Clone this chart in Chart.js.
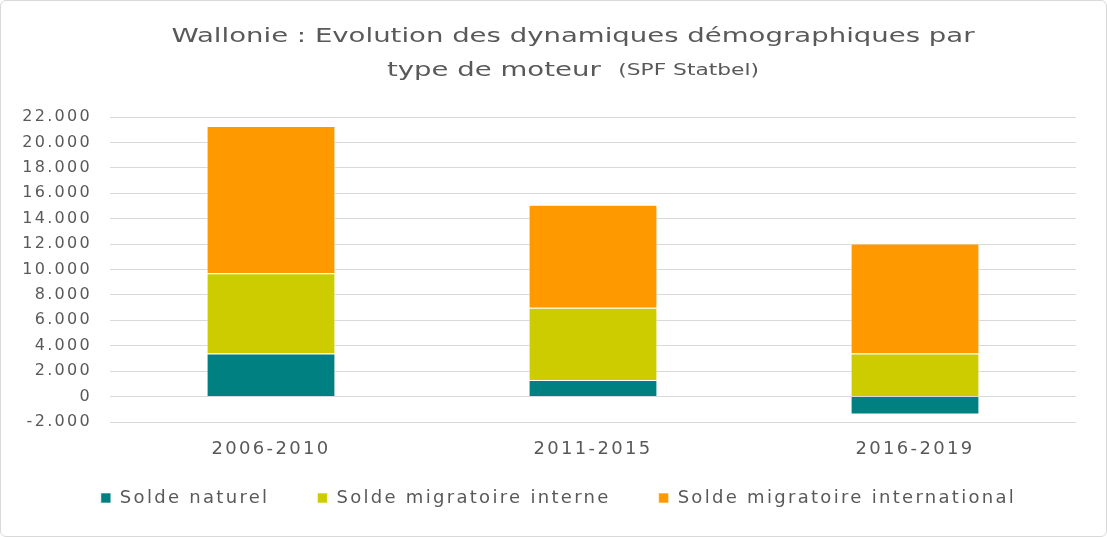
<!DOCTYPE html>
<html>
<head>
<meta charset="utf-8">
<script src="https://cdn.jsdelivr.net/npm/chart.js@4"></script>
<style>
    html, body { margin: 0; padding: 0; background: #ffffff; }
    #wrap {
        width: 1107px; height: 537px; box-sizing: border-box;
        border: 1px solid #d9d9d9; border-radius: 6px; position: relative;
    }
</style>
</head>
<body>
<div id="wrap"><canvas id="demoChart"></canvas></div>
<script>
        // Data
        const periods = ['2006-2010', '2011-2015', '2016-2019'];
        const soldeNaturel = [3400, 1300, -1400];
        const soldeInterne = [6300, 5700, 3400];
        const soldeInternational = [11600, 8100, 8650];
        const yTicks = [-2000, 0, 2000, 4000, 6000, 8000, 10000, 12000, 14000, 16000, 18000, 20000, 22000];

        const textColor = '#595959';
        const fontFamily = "'DejaVu Sans', sans-serif";
        const spacing = '2.3px';

        function formatNumber(num) {
            return num.toString().replace(/\B(?=(\d{3})+(?!\d))/g, ".");
        }

        // The source text is wide, so space the letters a bit
        const spacingPlugin = {
            id: 'letterSpacing',
            beforeUpdate(chart) { chart.ctx.letterSpacing = spacing; },
            beforeDraw(chart) { chart.ctx.letterSpacing = spacing; }
        };

        // Move the legend up and a little to the right, like the reference
        const legendShift = {
            id: 'legendShift',
            afterLayout(chart) {
                const legend = chart.legend;
                legend.left += 20;
                legend.right += 20;
                legend.top -= 19;
                legend.bottom -= 19;
            }
        };

        // Title with a smaller source note on the second line
        const titlePlugin = {
            id: 'twoSizeTitle',
            afterDraw(chart) {
                const ctx = chart.ctx;
                const line1 = 'Wallonie : Evolution des dynamiques démographiques par';
                const main = 'type de moteur  ';
                const note = '(SPF Statbel)';
                ctx.save();
                ctx.letterSpacing = '0px';
                ctx.fillStyle = textColor;
                ctx.textBaseline = 'middle';
                ctx.font = '19px ' + fontFamily;
                const sx = 803 / ctx.measureText(line1).width;
                ctx.translate(572, 0);
                ctx.scale(sx, 1);
                ctx.textAlign = 'center';
                ctx.fillText(line1, 0, 36);

                const w1 = ctx.measureText(main).width;
                ctx.font = '15px ' + fontFamily;
                const w2 = ctx.measureText(note).width;
                const x = -(w1 + w2) / 2;
                ctx.textAlign = 'left';
                ctx.font = '19px ' + fontFamily;
                ctx.fillText(main, x, 70);
                ctx.font = '15px ' + fontFamily;
                ctx.fillText(note, x + w1, 70);
                ctx.restore();
            }
        };

        const ctx = document.getElementById('demoChart').getContext('2d');
        const demoChart = new Chart(ctx, {
            type: 'bar',
            data: {
                labels: periods,
                datasets: [
                    {
                        label: 'Solde naturel',
                        data: soldeNaturel,
                        backgroundColor: '#008080',
                        borderColor: 'rgba(255, 255, 255, 0.6)',
                        borderWidth: 1
                    },
                    {
                        label: 'Solde migratoire interne',
                        data: soldeInterne,
                        backgroundColor: '#cccc00',
                        borderColor: 'rgba(255, 255, 255, 0.6)',
                        borderWidth: 1
                    },
                    {
                        label: 'Solde migratoire international',
                        data: soldeInternational,
                        backgroundColor: '#ff9900',
                        borderColor: 'rgba(255, 255, 255, 0.6)',
                        borderWidth: 1
                    }
                ]
            },
            options: {
                responsive: true,
                maintainAspectRatio: false,
                animation: false,
                layout: {
                    padding: { top: 116, right: 30, bottom: 0, left: 0 }
                },
                datasets: {
                    bar: { barPercentage: 0.4, categoryPercentage: 1 }
                },
                plugins: {
                    title: { display: false },
                    tooltip: { enabled: false },
                    legend: {
                        position: 'bottom',
                        labels: {
                            boxWidth: 10,
                            boxHeight: 10,
                            padding: 48,
                            color: textColor,
                            font: { family: fontFamily, size: 18 }
                        }
                    }
                },
                scales: {
                    x: {
                        stacked: true,
                        grid: { display: false },
                        border: { display: false },
                        ticks: {
                            color: textColor,
                            padding: 9,
                            font: { family: fontFamily, size: 18 }
                        },
                        afterFit(scale) { scale.height = 38; }
                    },
                    y: {
                        stacked: true,
                        min: -2000,
                        max: 22000,
                        afterBuildTicks(scale) {
                            scale.ticks = yTicks.map(v => ({ value: v }));
                        },
                        grid: { color: '#d9d9d9', lineWidth: 1, drawTicks: false },
                        border: { display: false },
                        ticks: {
                            color: textColor,
                            padding: 18,
                            font: { family: fontFamily, size: 16 },
                            callback: (value) => value < 0 ? '-' + formatNumber(-value) : formatNumber(value)
                        },
                        afterFit(scale) { scale.width = 109; }
                    }
                }
            },
            plugins: [spacingPlugin, legendShift, titlePlugin]
        });
</script>
</body>
</html>
